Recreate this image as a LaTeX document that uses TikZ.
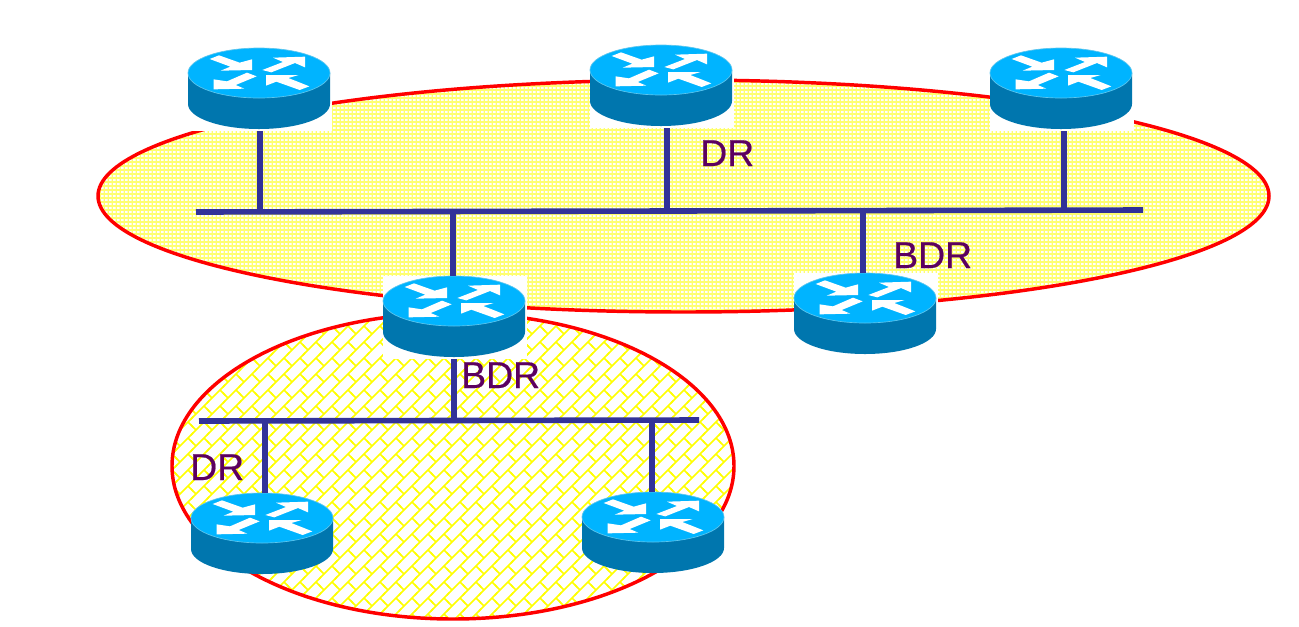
\documentclass[tikz,border=0pt]{standalone}
\usepackage{fontspec}
\setmainfont{Liberation Sans}
\usetikzlibrary{patterns}
\definecolor{routertop}{HTML}{00B4FF}
\definecolor{routerside}{HTML}{0076AE}
\definecolor{routeredge}{HTML}{5CC6EE}
\definecolor{netblue}{HTML}{333399}
\definecolor{labelpurple}{HTML}{5C0060}
\definecolor{areared}{HTML}{FF0000}
\definecolor{meshyellow}{HTML}{FFFF70}
\pgfdeclarepatternformonly{topmesh}{\pgfqpoint{-.2pt}{-.2pt}}{\pgfqpoint{3.2pt}{3.2pt}}{\pgfqpoint{3pt}{3pt}}{
  \pgfsetlinewidth{1.1pt}
  \pgfpathmoveto{\pgfqpoint{0pt}{-.2pt}}\pgfpathlineto{\pgfqpoint{0pt}{3.2pt}}
  \pgfpathmoveto{\pgfqpoint{-.2pt}{0pt}}\pgfpathlineto{\pgfqpoint{3.2pt}{0pt}}
  \pgfusepath{stroke}}
\pgfdeclarepatternformonly{brickmesh}{\pgfqpoint{-1pt}{-1pt}}{\pgfqpoint{13pt}{13pt}}{\pgfqpoint{12pt}{12pt}}{
  \pgfsetlinewidth{1.2pt}
  \pgfpathmoveto{\pgfqpoint{-1pt}{-1pt}}\pgfpathlineto{\pgfqpoint{13pt}{13pt}}
  \pgfpathmoveto{\pgfqpoint{3pt}{3pt}}\pgfpathlineto{\pgfqpoint{-1pt}{7pt}}
  \pgfpathmoveto{\pgfqpoint{15pt}{3pt}}\pgfpathlineto{\pgfqpoint{9pt}{9pt}}
  \pgfusepath{stroke}}
\tikzset{
  areaedge/.style={draw=areared,line width=2.6pt},
  netline/.style={draw=netblue,line width=4.2pt},
  linkline/.style={draw=netblue,line width=4.2pt},
  routerback/.style={fill=white,inner sep=0pt,minimum width=108pt,minimum height=62.25pt},
  routerbare/.style={inner sep=0pt,minimum width=108pt,minimum height=62.25pt},
  arealabel/.style={text=labelpurple,font=\fontsize{28}{28}\selectfont\addfontfeature{FakeBold=0.5},inner sep=0pt,anchor=base west},
  routerpic/.pic={
    \fill[routerside] (-71,0) -- (-71,31) arc[start angle=180,end angle=0,x radius=71,y radius=25] -- (71,0) -- cycle;
    \filldraw[fill=routertop,draw=routeredge,line width=.5pt] (0,0) ellipse[x radius=71,y radius=25];
    \begin{scope}[x=.25pt,y=-.25pt,shift={(-268,-130)},fill=white]
      \fill (120,88) -- (148,77) -- (210,99) -- (247,89) -- (247,121) -- (153,123) -- (182,111) -- cycle;
      \fill (278,121) -- (340,97) -- (310,84) -- (406,81) -- (406,113) -- (376,100) -- (305,128) -- cycle;
      \fill (132,149) -- (132,179) -- (224,177) -- (198,166) -- (261,140) -- (232,129) -- (172,155) -- cycle;
      \fill (289,136) -- (289,168) -- (320,156) -- (390,181) -- (419,170) -- (356,145) -- (387,136) -- cycle;
    \end{scope}
  }
}
\newcommand{\routerat}[4][routerback]{%
  \node[#1] (#2) at (#3+1,#4+16.5) {};
  \pic at (#3,#4) {routerpic};
}
\begin{document}
\begin{tikzpicture}[x=.75pt,y=-.75pt]
\useasboundingbox (0,0) rectangle (1299,626);
% areas
\fill[white] (683.5,196) ellipse[x radius=585.5,y radius=116];
\fill[pattern=topmesh,pattern color=meshyellow] (683.5,196) ellipse[x radius=585.5,y radius=116];
\draw[areaedge] (683.5,196) ellipse[x radius=585.5,y radius=116];
\fill[white] (453,466) ellipse[x radius=281,y radius=153];
\fill[pattern=brickmesh,pattern color=yellow] (453,466) ellipse[x radius=281,y radius=153];
\draw[areaedge] (453,466) ellipse[x radius=281,y radius=153];
% routers
\routerat{r1}{259}{73}
\routerat{r2}{661}{70}
\routerat{r3}{1061}{73}
\routerat{r4}{454}{301}
\routerat{r5}{865}{298}
\routerat[routerbare]{r6}{262}{518}
\routerat[routerbare]{r7}{653}{517}
% networks
\coordinate (busAw) at (196,212);
\coordinate (busAe) at (1143,210);
\coordinate (busBw) at (199,421);
\coordinate (busBe) at (699,420);
\coordinate (a1) at (260,212);
\coordinate (a2) at (667,211);
\coordinate (a3) at (1064,210);
\coordinate (a4) at (453,212);
\coordinate (a5) at (863,211);
\coordinate (b4) at (454,420.5);
\coordinate (b6) at (265,421);
\coordinate (b7) at (652,420);
\draw[netline] (busAw) -- (busAe);
\draw[netline] (busBw) -- (busBe);
\draw[linkline] (a1) -- (a1 |- r1.south);
\draw[linkline] (a2) -- (a2 |- r2.south);
\draw[linkline] (a3) -- (a3 |- r3.south);
\draw[linkline] (a4) -- (a4 |- r4.north);
\draw[linkline] (a5) -- (a5 |- r5.north);
\draw[linkline] (b4) -- (b4 |- r4.south);
\draw[linkline] (b6) -- (b6 |- r6.north);
\draw[linkline] (b7) -- (b7 |- r7.north);
% labels
\node[arealabel] (l1) at (700,166) {DR};
\node[arealabel] (l2) at (893,268) {BDR};
\node[arealabel] (l3) at (461,388) {BDR};
\node[arealabel] (l4) at (190,480) {DR};
\end{tikzpicture}
\end{document}
